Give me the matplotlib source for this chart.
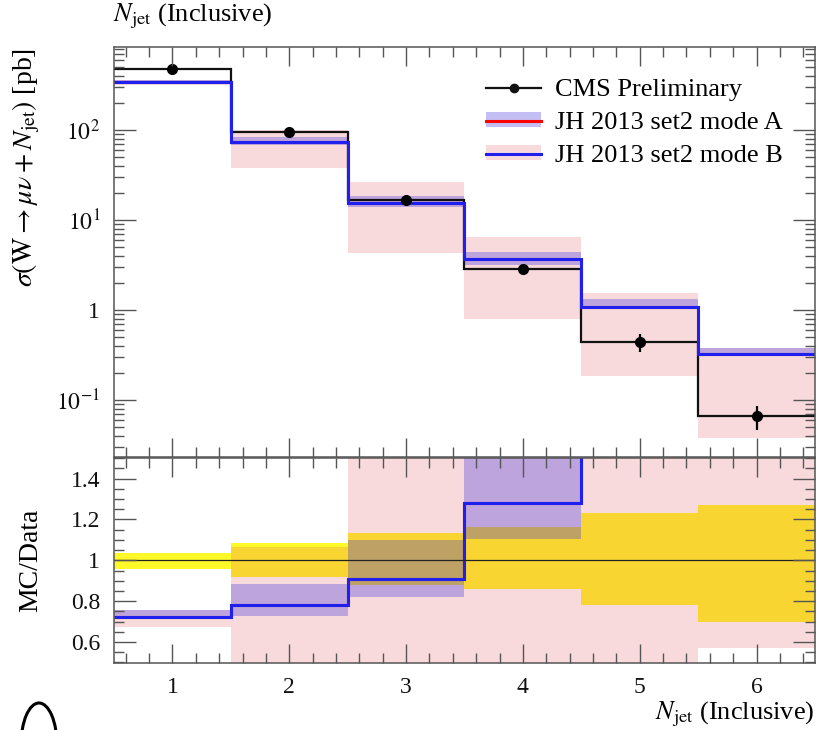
import numpy as np
import matplotlib
matplotlib.use("Agg")
import matplotlib.pyplot as plt
from matplotlib.patches import Patch, Ellipse
from matplotlib.lines import Line2D
from matplotlib.ticker import FixedLocator, MultipleLocator, LogLocator, NullFormatter

plt.rcParams['font.family'] = ['Liberation Serif', 'DejaVu Serif']
plt.rcParams['mathtext.fontset'] = 'stix'

# values
njet = [1, 2, 3, 4, 5, 6]
edges = [0.5, 1.5, 2.5, 3.5, 4.5, 5.5, 6.5]
data_xs = [476, 95, 16.8, 2.86, 0.44, 0.066]       # pb
data_stat = [0.02, 0.03, 0.05, 0.06, 0.23, 0.30]   # relative error bars
data_tot_lo = [0.958, 0.917, 0.877, 0.86, 0.78, 0.70]   # ratio band
data_tot_hi = [1.036, 1.085, 1.134, 1.164, 1.233, 1.273]
mc_xs = [344, 74, 15.3, 3.66, 1.09, 0.325]
modeA_lo = [340, 69, 13.8, 3.16, 1.04, 0.316]
modeA_hi = [361, 84, 18.5, 4.44, 1.31, 0.38]
modeB_lo = [320, 37.8, 4.33, 0.79, 0.186, 0.0377]
modeB_hi = [361, 101, 26.6, 6.5, 1.53, 0.38]

W, H = 816, 730
BLUE = '#2020ee'
PINK = '#dc4650'
LAV = '#3a2adc'
YEL = '#fff92a'
GRID = '#555555'

fig = plt.figure(figsize=(W / 100, H / 100), dpi=100)
L, R = 114 / W, 815 / W
ax = fig.add_axes([L, 1 - 457.5 / H, R - L, (457.5 - 46.7) / H])
axr = fig.add_axes([L, 1 - 663.3 / H, R - L, (663.3 - 457.5) / H])

x = np.array(njet)
data = np.array(data_xs)
mc = np.array(mc_xs)

# top panel
ax.bar(x, np.array(modeB_hi) - modeB_lo, bottom=modeB_lo, width=1, color=PINK, alpha=0.2, lw=0)
ax.bar(x, np.array(modeA_hi) - modeA_lo, bottom=modeA_lo, width=1, color=LAV, alpha=0.3, lw=0)
ax.stairs(data, edges, baseline=None, color='#111111', lw=1.6)
ax.stairs(mc, edges, baseline=None, color='red', lw=2.2)
ax.stairs(mc, edges, baseline=None, color=BLUE, lw=2.2)
ax.errorbar(x, data, yerr=data * np.array(data_stat), fmt='o', color='black', ms=7, elinewidth=1.6, capsize=0)
ax.set_yscale('log')
ax.set_ylim(0.0230, 843)
ax.set_xlim(0.5, 6.5)
ax.yaxis.set_major_locator(FixedLocator([0.1, 1, 10, 100]))
ax.yaxis.set_major_formatter(plt.FuncFormatter(
    lambda v, p: '1' if abs(v - 1) < 1e-9 else r'$10^{%d}$' % round(np.log10(v))))
ax.yaxis.set_minor_locator(LogLocator(base=10, subs=np.arange(2, 10)))
ax.yaxis.set_minor_formatter(NullFormatter())
ax.tick_params(axis='x', labelbottom=False)

# ratio panel
ratio = mc / data
axr.bar(x, np.array(data_tot_hi) - data_tot_lo, bottom=data_tot_lo, width=1, color=YEL, lw=0)
axr.bar(x, (np.array(modeB_hi) - modeB_lo) / data, bottom=np.array(modeB_lo) / data, width=1,
        color=PINK, alpha=0.2, lw=0)
axr.bar(x, (np.array(modeA_hi) - modeA_lo) / data, bottom=np.array(modeA_lo) / data, width=1,
        color=LAV, alpha=0.3, lw=0)
axr.axhline(1, color='#222222', lw=0.9)
axr.stairs(ratio, edges, baseline=None, color='red', lw=2.2)
axr.stairs(ratio, edges, baseline=None, color=BLUE, lw=2.2)
axr.set_xlim(0.5, 6.5)
axr.set_ylim(0.496, 1.503)
axr.yaxis.set_major_locator(FixedLocator([0.6, 0.8, 1.0, 1.2, 1.4]))
axr.yaxis.set_major_formatter(plt.FuncFormatter(lambda v, p: '1' if abs(v - 1) < 1e-9 else '%.1f' % v))
axr.yaxis.set_minor_locator(MultipleLocator(0.05))
axr.set_xticks(njet)
axr.set_xticklabels([str(n) for n in njet])

for a in (ax, axr):
    a.xaxis.set_minor_locator(MultipleLocator(0.2))
    a.tick_params(which='both', direction='in', top=True, right=True, color=GRID, width=1.0,
                  labelsize=17, labelcolor='#111111')
    a.tick_params(which='major', length=16)
    a.tick_params(which='minor', length=7)
    a.tick_params(axis='y', which='major', pad=10)
    a.tick_params(axis='x', which='major', length=14, pad=10)
    for s in a.spines.values():
        s.set_color(GRID)
        s.set_linewidth(1.1)
    a.set_axisbelow(False)

# legend
handles = [Line2D([], [], color='#111111', marker='o', ms=6, lw=1.6),
           (Patch(fc=LAV, alpha=0.3, lw=0), Line2D([], [], color='red', lw=2.2)),
           (Patch(fc=PINK, alpha=0.2, lw=0), Line2D([], [], color=BLUE, lw=2.2))]
labels = ['CMS Preliminary', 'JH 2013 set2 mode A', 'JH 2013 set2 mode B']
fig.legend(handles, labels, loc='upper left', bbox_to_anchor=(486 / W, 1 - 79 / H),
           bbox_transform=fig.transFigure, frameon=False, fontsize=19, borderpad=0,
           borderaxespad=0, handlelength=2.1, handleheight=0.5, handletextpad=0.5,
           labelspacing=0.42)

# texts
fig.text(113 / W, 1 - 16 / H, r'$N_{\rm jet}$ (Inclusive)', fontsize=19, ha='left', va='center')
fig.text(814 / W, 1 - 714 / H, r'$N_{\rm jet}$ (Inclusive)', fontsize=19, ha='right', va='center')
fig.text(26 / W, 1 - 48 / H, r'$\sigma(\mathrm{W} \rightarrow \mu\nu + N_{\rm jet})$ [pb]',
         fontsize=20, rotation=90, ha='center', va='top')
fig.text(31 / W, 1 - 560 / H, 'MC/Data', fontsize=20, rotation=90, ha='center', va='center')

# cropped logo outline in the bottom-left corner
fig.add_artist(Ellipse((39 / W, 1 - 745 / H), 36 / W, 84 / H, transform=fig.transFigure,
                       fill=False, lw=2.2, ec='black'))

fig.savefig('out.png', dpi=100)
